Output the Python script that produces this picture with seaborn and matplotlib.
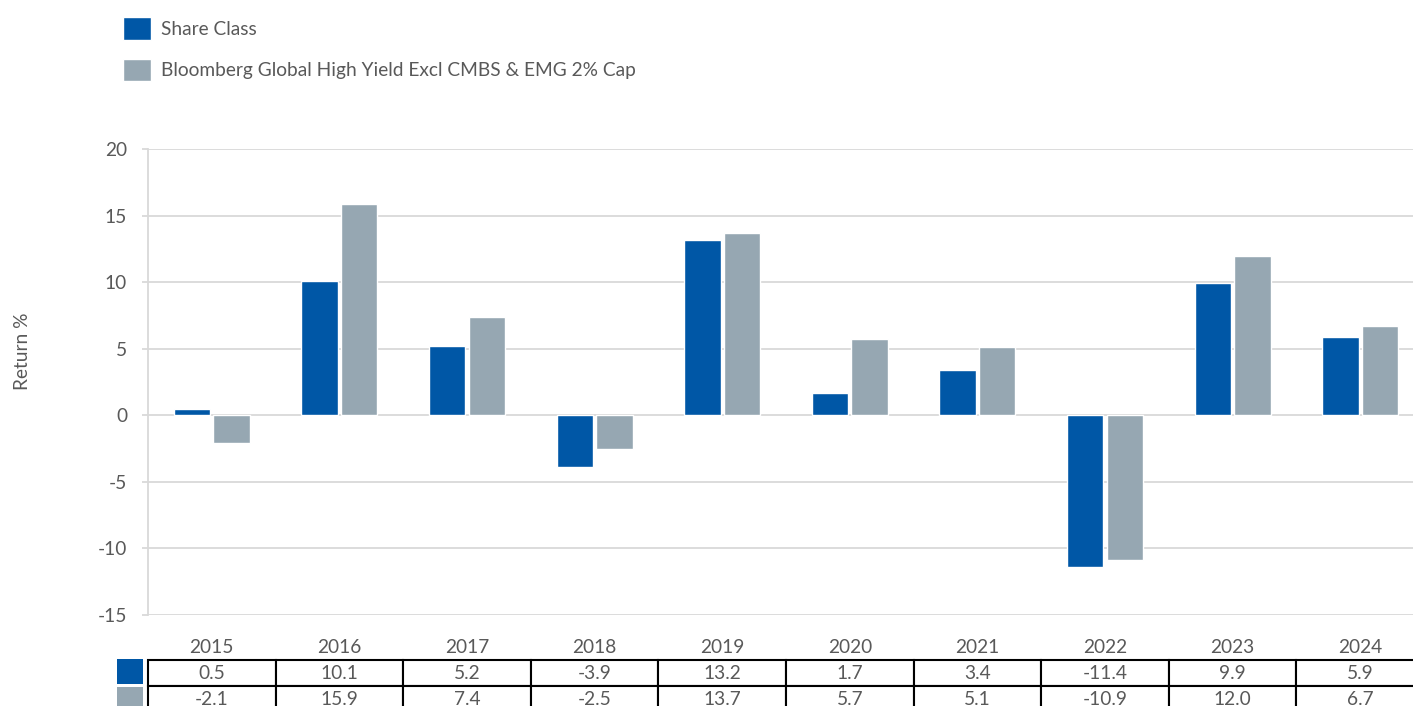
import matplotlib
matplotlib.use("Agg")
import matplotlib.pyplot as plt
from matplotlib.patches import Rectangle
import seaborn as sns
import pandas as pd

years = ["2015", "2016", "2017", "2018", "2019", "2020", "2021", "2022", "2023", "2024"]
share_class = [0.5, 10.1, 5.2, -3.9, 13.2, 1.7, 3.4, -11.4, 9.9, 5.9]
benchmark = [-2.1, 15.9, 7.4, -2.5, 13.7, 5.7, 5.1, -10.9, 12.0, 6.7]
series_names = ["Share Class", "Bloomberg Global High Yield Excl CMBS & EMG 2% Cap"]
colors = ["#0057A6", "#96A7B2"]
yticks = [-15, -10, -5, 0, 5, 10, 15, 20]

df = pd.DataFrame({
    "year": years * 2,
    "value": share_class + benchmark,
    "series": [series_names[0]] * len(years) + [series_names[1]] * len(years),
})

sns.set_theme(style="white")
plt.rcParams["font.family"] = ["Lato", "DejaVu Sans"]
text_color = "#595959"
grid_color = "#D9D9D9"
fs = 13.75

fig = plt.figure(figsize=(14.13, 7.06), dpi=100)
ax = fig.add_axes([148 / 1413, 1 - 615 / 706, 1276 / 1413, 466 / 706])

sns.barplot(data=df, x="year", y="value", hue="series", palette=colors,
            width=0.62, gap=0.08, saturation=1, ax=ax)

ax.set_xlim(-0.5, 9.5)
ax.set_ylim(-15, 20)
ax.set_yticks(yticks)
ax.set_yticklabels([str(t) for t in yticks])
ax.grid(axis="y", color=grid_color, linewidth=1.3)
ax.set_axisbelow(True)
for s in ["top", "right", "bottom"]:
    ax.spines[s].set_visible(False)
ax.spines["left"].set_color(grid_color)
ax.spines["left"].set_linewidth(1.3)
ax.tick_params(axis="y", left=True, length=4.3, width=1.3, color=grid_color,
               pad=10.8, labelsize=fs, labelcolor=text_color)
ax.tick_params(axis="x", bottom=False, length=0, pad=17, labelsize=fs,
               labelcolor=text_color)
ax.set_xlabel("")
ax.set_ylabel("Return %", fontsize=fs, color=text_color)
ax.yaxis.set_label_coords(-0.092, 0.5665)

# legend at top left
handles, labels = ax.get_legend_handles_labels()
ax.legend_.remove()
fig.legend(handles, labels, loc="upper left",
           bbox_to_anchor=(123 / 1413, 1 - 17 / 706), frameon=False,
           fontsize=fs, labelcolor=text_color, handlelength=1.47,
           handleheight=1.45, handletextpad=0.52, labelspacing=1.0,
           borderpad=0, borderaxespad=0)

# data table under the chart
cell_text = [[f"{v:.1f}" for v in share_class], [f"{v:.1f}" for v in benchmark]]
tbl = ax.table(cellText=cell_text, cellLoc="center",
               bbox=[0, -0.2082, 1, 0.1116])
tbl.auto_set_font_size(False)
tbl.set_fontsize(fs)
for cell in tbl.get_celld().values():
    cell.set_edgecolor("black")
    cell.set_linewidth(1.5)
    cell.get_text().set_color(text_color)
    cell.set_clip_on(False)

# colour keys beside table rows
key_bottoms = [-0.1481, -0.2082]
for bottom, c in zip(key_bottoms, colors):
    ax.add_patch(Rectangle((-0.0243, bottom), 0.0204, 0.0537,
                           transform=ax.transAxes, facecolor=c,
                           edgecolor="none", clip_on=False))

fig.savefig("out.png", dpi=100)
